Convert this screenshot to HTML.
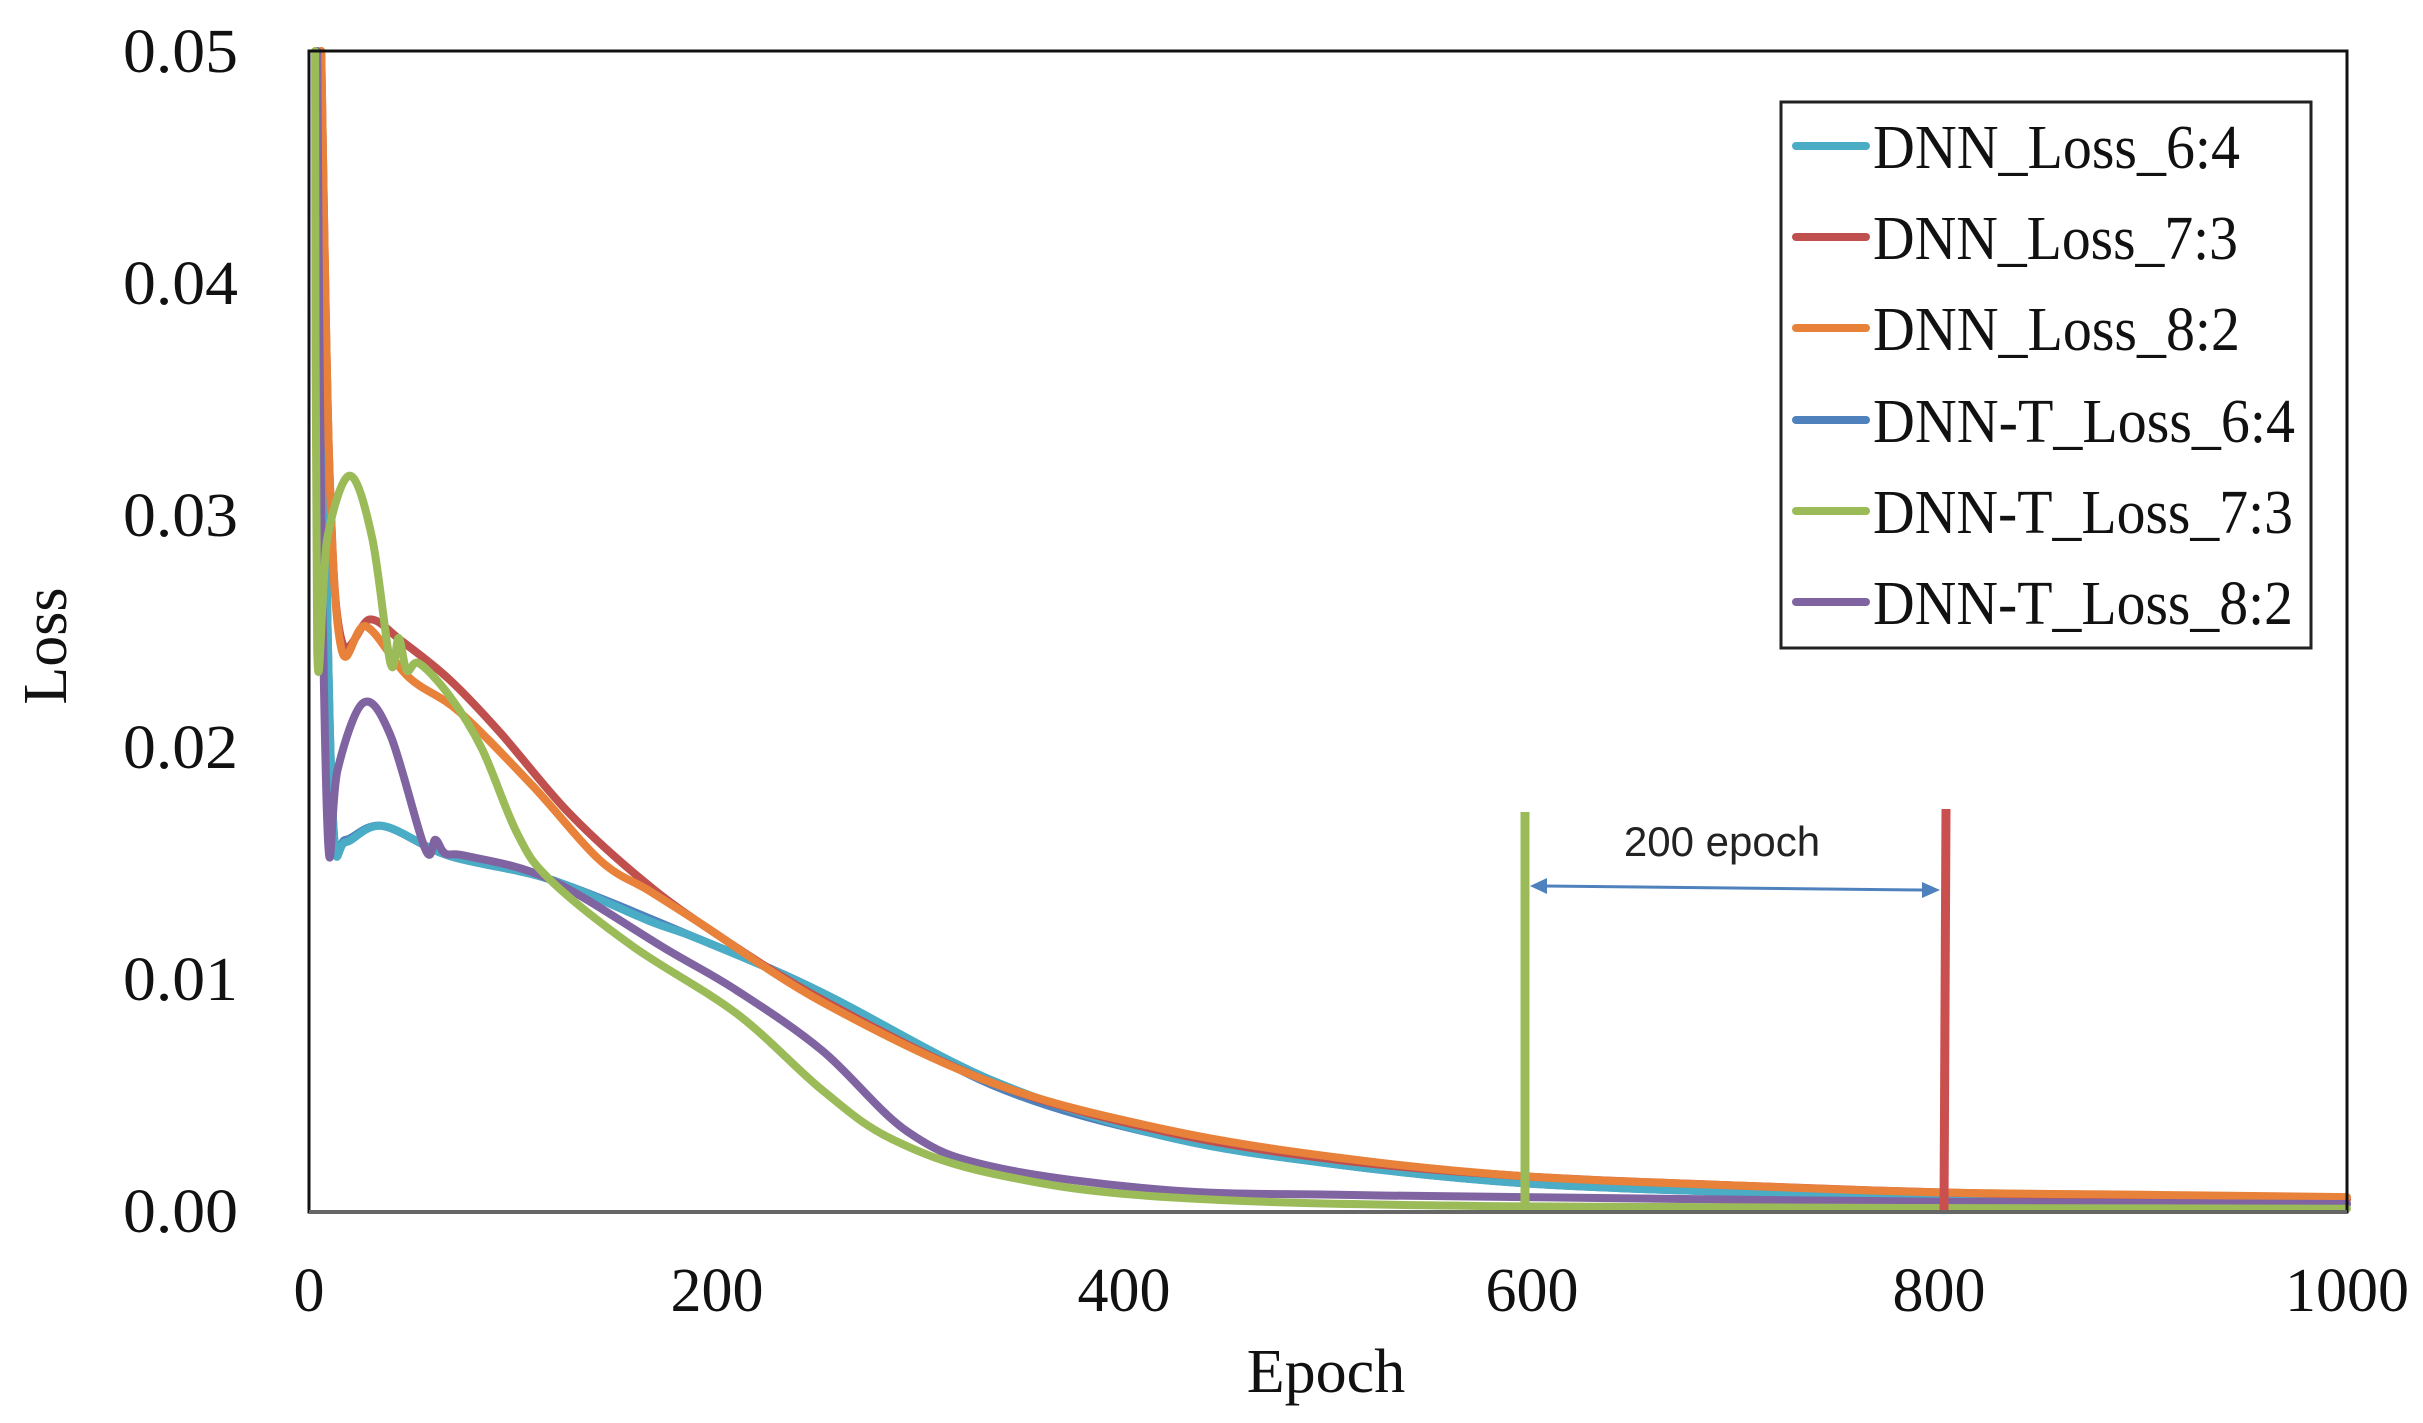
<!DOCTYPE html>
<html><head><meta charset="utf-8"><style>
html,body{margin:0;padding:0;background:#fff;}
svg{display:block;}
</style></head><body>
<svg id="s" width="2423" height="1423" viewBox="0 0 2423 1423" xmlns="http://www.w3.org/2000/svg">
<rect width="2423" height="1423" fill="#fff"/>
<g id="curves" fill="none" stroke-width="8" stroke-linejoin="round" stroke-linecap="round"></g>
<line x1="1525" y1="812" x2="1525" y2="1211" stroke="#9BBB59" stroke-width="9"/>
<line x1="1946" y1="809" x2="1944" y2="1211" stroke="#C9504E" stroke-width="9"/>
<line x1="1545" y1="886" x2="1922" y2="890" stroke="#4F81BD" stroke-width="3"/>
<polygon points="1530,886 1547,878 1547,894" fill="#4F81BD"/>
<polygon points="1940,890 1922,882 1922,898" fill="#4F81BD"/>
<text x="1722" y="856" font-family="'Liberation Sans',sans-serif" font-size="42" text-anchor="middle" fill="#222">200 epoch</text>
<rect x="309" y="51" width="2038" height="1161" fill="none" stroke="#111" stroke-width="3"/>
<line x1="309" y1="1212" x2="2347" y2="1212" stroke="#666" stroke-width="4"/>
<g font-family="'Liberation Serif',serif" font-size="62" fill="#111" text-anchor="end">
<text x="238" y="72" textLength="115" lengthAdjust="spacingAndGlyphs">0.05</text>
<text x="238" y="304" textLength="115" lengthAdjust="spacingAndGlyphs">0.04</text>
<text x="238" y="536" textLength="115" lengthAdjust="spacingAndGlyphs">0.03</text>
<text x="238" y="768" textLength="115" lengthAdjust="spacingAndGlyphs">0.02</text>
<text x="238" y="1000" textLength="115" lengthAdjust="spacingAndGlyphs">0.01</text>
<text x="238" y="1232" textLength="115" lengthAdjust="spacingAndGlyphs">0.00</text>
</g>
<g font-family="'Liberation Serif',serif" font-size="62" fill="#111" text-anchor="middle">
<text x="309" y="1311">0</text>
<text x="717" y="1311">200</text>
<text x="1124" y="1311">400</text>
<text x="1532" y="1311">600</text>
<text x="1939" y="1311">800</text>
<text x="2347" y="1311">1000</text>
<text x="1326" y="1392">Epoch</text>
<text transform="translate(66,646) rotate(-90)">Loss</text>
</g>
<rect x="1781" y="102" width="530" height="546" fill="#fff" stroke="#222" stroke-width="3"/>
<g stroke-width="8" stroke-linecap="round">
<line x1="1796" y1="146" x2="1866" y2="146" stroke="#4BACC6"/>
<line x1="1796" y1="237" x2="1866" y2="237" stroke="#C0504D"/>
<line x1="1796" y1="328" x2="1866" y2="328" stroke="#E8823A"/>
<line x1="1796" y1="420" x2="1866" y2="420" stroke="#4F81BD"/>
<line x1="1796" y1="511" x2="1866" y2="511" stroke="#9BBB59"/>
<line x1="1796" y1="602" x2="1866" y2="602" stroke="#8064A2"/>
</g>
<g font-family="'Liberation Serif',serif" font-size="62" fill="#111">
<text x="1873" y="168" textLength="367" lengthAdjust="spacingAndGlyphs">DNN_Loss_6:4</text>
<text x="1873" y="259" textLength="365" lengthAdjust="spacingAndGlyphs">DNN_Loss_7:3</text>
<text x="1873" y="350" textLength="367" lengthAdjust="spacingAndGlyphs">DNN_Loss_8:2</text>
<text x="1873" y="442" textLength="422" lengthAdjust="spacingAndGlyphs">DNN-T_Loss_6:4</text>
<text x="1873" y="533" textLength="420" lengthAdjust="spacingAndGlyphs">DNN-T_Loss_7:3</text>
<text x="1873" y="624" textLength="420" lengthAdjust="spacingAndGlyphs">DNN-T_Loss_8:2</text>
</g>
</svg>
<script>
(function(){
var X=function(e){return 309+e*2.038;}, Y=function(l){return 1211-l*23200;};
function path(pts){
 var p=pts.map(function(a){return [X(a[0]),Y(a[1])];});
 var d="M"+p[0][0].toFixed(1)+","+p[0][1].toFixed(1);
 for(var i=0;i<p.length-1;i++){
  var p0=p[i-1]||p[i],p1=p[i],p2=p[i+1],p3=p[i+2]||p2,t=1/6;
  var c1=[p1[0]+(p2[0]-p0[0])*t,p1[1]+(p2[1]-p0[1])*t];
  var c2=[p2[0]-(p3[0]-p1[0])*t,p2[1]-(p3[1]-p1[1])*t];
  d+=" C"+c1[0].toFixed(1)+","+c1[1].toFixed(1)+" "+c2[0].toFixed(1)+","+c2[1].toFixed(1)+" "+p2[0].toFixed(1)+","+p2[1].toFixed(1);
 }
 return d;
}
var S=[
 ["#4F81BD",[[4,0.05],[8,0.03],[12,0.0165],[18,0.016],[36,0.0166],[69,0.0153],[118,0.0143],[192,0.0117],[252,0.0094],[336,0.0054],[421,0.0032],[505,0.002],[596,0.0012],[700,0.0008],[800,0.0005],[1000,0.0003]]],
 ["#4BACC6",[[4,0.05],[8,0.03],[12,0.0165],[18,0.0159],[36,0.0166],[69,0.0153],[118,0.0143],[167,0.0125],[192,0.0117],[252,0.0094],[336,0.0056],[421,0.0032],[505,0.002],[596,0.0012],[700,0.0008],[800,0.0005],[1000,0.0003]]],
 ["#C0504D",[[6,0.05],[10,0.032],[16,0.0246],[30,0.0255],[45,0.0246],[69,0.0229],[94,0.0206],[126,0.0173],[159,0.0146],[192,0.0124],[252,0.0091],[336,0.0055],[421,0.0034],[505,0.0022],[596,0.0015],[700,0.0011],[800,0.0008],[900,0.0006],[1000,0.0005]]],
 ["#E8823A",[[6,0.05],[10,0.032],[16,0.0242],[28,0.0252],[49,0.023],[74,0.0215],[110,0.0183],[143,0.0151],[167,0.0138],[192,0.0124],[252,0.009],[336,0.0055],[421,0.0035],[505,0.0023],[596,0.0015],[700,0.0011],[800,0.0008],[900,0.0007],[1000,0.0006]]],
 ["#8064A2",[[4,0.05],[6,0.03],[9.5,0.0157],[14,0.019],[26.6,0.0219],[40,0.0205],[57,0.0156],[62,0.016],[67,0.0154],[77.5,0.0153],[118,0.0143],[175,0.0113],[210,0.0095],[252,0.0069],[294,0.0034],[336,0.0019],[421,0.0009],[505,0.0007],[596,0.0006],[800,0.0004],[1000,0.0003]]],
 ["#9BBB59",[[3,0.05],[4,0.0242],[9,0.029],[20,0.0317],[31,0.029],[40,0.0236],[44,0.0247],[48,0.0233],[54,0.0236],[69,0.0222],[85,0.0199],[102,0.0163],[118,0.0143],[159,0.0114],[210,0.0085],[252,0.0052],[286,0.0031],[336,0.0016],[421,0.0006],[596,0.0002],[1000,0.0001]]]
];
var g=document.getElementById("curves"),ns="http://www.w3.org/2000/svg";
S.forEach(function(s){var p=document.createElementNS(ns,"path");p.setAttribute("d",path(s[1]));p.setAttribute("stroke",s[0]);g.appendChild(p);});
})();
</script>
</body></html>
